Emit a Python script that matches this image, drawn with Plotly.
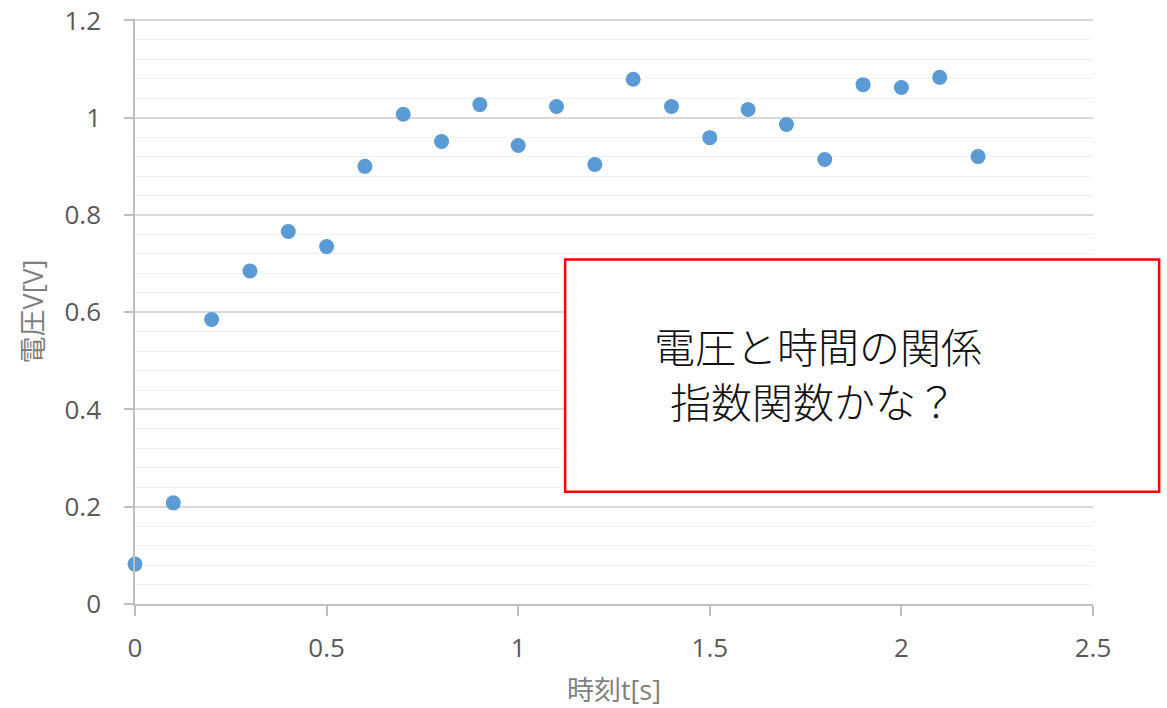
import plotly.graph_objects as go

t = [0, 0.1, 0.2, 0.3, 0.4, 0.5, 0.6, 0.7, 0.8, 0.9, 1.0, 1.1, 1.2, 1.3, 1.4, 1.5,
     1.6, 1.7, 1.8, 1.9, 2.0, 2.1, 2.2]
v = [0.082, 0.208, 0.585, 0.685, 0.766, 0.735, 0.900, 1.007, 0.951, 1.027, 0.943,
     1.023, 0.904, 1.079, 1.023, 0.959, 1.017, 0.986, 0.914, 1.068, 1.062, 1.083, 0.920]

y_ticks = [0, 0.2, 0.4, 0.6, 0.8, 1.0, 1.2]
y_tick_labels = ["0", "0.2", "0.4", "0.6", "0.8", "1", "1.2"]
x_ticks = [0, 0.5, 1.0, 1.5, 2.0, 2.5]
x_tick_labels = ["0", "0.5", "1", "1.5", "2", "2.5"]

x_title = "時刻t[s]"
y_title = "電圧V[V]"
note_line1 = "電圧と時間の関係"
note_line2 = "指数関数かな？"

tick_font = dict(family="Open Sans, Noto Sans CJK JP, sans-serif", size=26, color="#595959")
title_font = dict(family="Open Sans, Noto Sans CJK JP, sans-serif", size=27, color="#7F7F7F")

fig = go.Figure()
fig.add_trace(go.Scatter(
    x=t, y=v, mode="markers",
    marker=dict(color="#5B9BD5", size=15),
    cliponaxis=False, showlegend=False, hoverinfo="skip",
))

fig.update_layout(
    width=1167, height=708,
    margin=dict(l=135, r=74, t=19, b=104),
    paper_bgcolor="white", plot_bgcolor="white",
    xaxis=dict(
        range=[0, 2.5], tickmode="array", tickvals=x_ticks, ticktext=x_tick_labels,
        showgrid=False, zeroline=False, automargin=False,
        showline=True, linecolor="#BFBFBF", linewidth=1.5,
        ticks="outside", ticklen=10, tickcolor="#BFBFBF", tickwidth=1.5,
        tickfont=tick_font, ticklabelstandoff=10,
        title=dict(text=x_title, font=title_font, standoff=18),
    ),
    yaxis=dict(
        range=[0, 1.203], tickmode="array", tickvals=y_ticks, ticktext=y_tick_labels,
        showgrid=True, gridcolor="#D9D9D9", gridwidth=1.5,
        zeroline=False, automargin=False,
        showline=True, linecolor="#BFBFBF", linewidth=1.5,
        ticks="outside", ticklen=9, tickcolor="#BFBFBF", tickwidth=1.5,
        tickfont=tick_font, ticklabelstandoff=18,
        minor=dict(dtick=0.04, tick0=0, showgrid=True, gridcolor="#F2F2F2", gridwidth=1.2, ticks=""),
        title=dict(text=y_title, font=title_font, standoff=13),
    ),
)

fig.add_shape(type="rect", xref="paper", yref="paper",
              x0=0.449, x1=1.069, y0=0.192, y1=0.589,
              line=dict(color="#FF0000", width=2.5), fillcolor="white", layer="above")

note_font = dict(family="Noto Sans CJK JP, sans-serif", size=41, color="#111111", weight=300)
fig.add_annotation(xref="paper", yref="paper", x=0.713, y=0.442,
                   xanchor="center", yanchor="middle",
                   text=note_line1, showarrow=False, font=note_font)
fig.add_annotation(xref="paper", yref="paper", x=0.708, y=0.348,
                   xanchor="center", yanchor="middle",
                   text=note_line2, showarrow=False, font=note_font)

fig.write_html("out.html", config={"displayModeBar": False},
               post_script="document.body.style.margin='0';")
